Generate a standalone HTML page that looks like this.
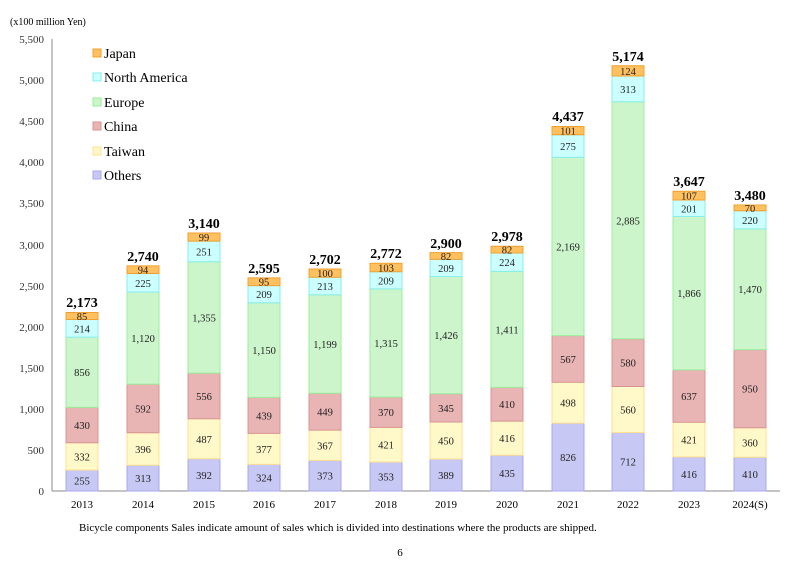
<!DOCTYPE html>
<html><head><meta charset="utf-8"><style>body{margin:0;background:#fff}svg{display:block;font-family:"Liberation Serif",serif}</style></head><body>
<svg width="800" height="566" viewBox="0 0 800 566" xmlns="http://www.w3.org/2000/svg">
<text x="10" y="25" font-size="10">(x100 million Yen)</text>
<g font-size="11" text-anchor="end" fill="#333">
<text x="44" y="495">0</text><text x="44" y="454">500</text><text x="44" y="413">1,000</text><text x="44" y="372">1,500</text><text x="44" y="331">2,000</text><text x="44" y="290">2,500</text><text x="44" y="249">3,000</text><text x="44" y="207">3,500</text><text x="44" y="166">4,000</text><text x="44" y="125">4,500</text><text x="44" y="84">5,000</text><text x="44" y="43">5,500</text>
</g>
<line x1="52" y1="39" x2="52" y2="491" stroke="#888"/>
<line x1="52" y1="491" x2="780" y2="491" stroke="#888"/>
<g transform="translate(0,491) scale(1,-0.08218)" stroke-width="1">
<defs></defs>
<g id="bars">
<!-- columns: x, then stacked segments -->
</g>
<g fill="#c8c8f4" stroke="#a8a8ee" vector-effect="non-scaling-stroke">
<rect x="66" y="0" width="32" height="255" vector-effect="non-scaling-stroke"/>
<rect x="127" y="0" width="32" height="313" vector-effect="non-scaling-stroke"/>
<rect x="188" y="0" width="32" height="392" vector-effect="non-scaling-stroke"/>
<rect x="248" y="0" width="32" height="324" vector-effect="non-scaling-stroke"/>
<rect x="309" y="0" width="32" height="373" vector-effect="non-scaling-stroke"/>
<rect x="370" y="0" width="32" height="353" vector-effect="non-scaling-stroke"/>
<rect x="430" y="0" width="32" height="389" vector-effect="non-scaling-stroke"/>
<rect x="491" y="0" width="32" height="435" vector-effect="non-scaling-stroke"/>
<rect x="552" y="0" width="32" height="826" vector-effect="non-scaling-stroke"/>
<rect x="612" y="0" width="32" height="712" vector-effect="non-scaling-stroke"/>
<rect x="673" y="0" width="32" height="416" vector-effect="non-scaling-stroke"/>
<rect x="734" y="0" width="32" height="410" vector-effect="non-scaling-stroke"/>
</g>
<g fill="#fff8c8" stroke="#ffe090">
<rect x="66" y="255" width="32" height="332" vector-effect="non-scaling-stroke"/>
<rect x="127" y="313" width="32" height="396" vector-effect="non-scaling-stroke"/>
<rect x="188" y="392" width="32" height="487" vector-effect="non-scaling-stroke"/>
<rect x="248" y="324" width="32" height="377" vector-effect="non-scaling-stroke"/>
<rect x="309" y="373" width="32" height="367" vector-effect="non-scaling-stroke"/>
<rect x="370" y="353" width="32" height="421" vector-effect="non-scaling-stroke"/>
<rect x="430" y="389" width="32" height="450" vector-effect="non-scaling-stroke"/>
<rect x="491" y="435" width="32" height="416" vector-effect="non-scaling-stroke"/>
<rect x="552" y="826" width="32" height="498" vector-effect="non-scaling-stroke"/>
<rect x="612" y="712" width="32" height="560" vector-effect="non-scaling-stroke"/>
<rect x="673" y="416" width="32" height="421" vector-effect="non-scaling-stroke"/>
<rect x="734" y="410" width="32" height="360" vector-effect="non-scaling-stroke"/>
</g>
<g fill="#e8b4b4" stroke="#d89494">
<rect x="66" y="587" width="32" height="430" vector-effect="non-scaling-stroke"/>
<rect x="127" y="709" width="32" height="592" vector-effect="non-scaling-stroke"/>
<rect x="188" y="879" width="32" height="556" vector-effect="non-scaling-stroke"/>
<rect x="248" y="701" width="32" height="439" vector-effect="non-scaling-stroke"/>
<rect x="309" y="740" width="32" height="449" vector-effect="non-scaling-stroke"/>
<rect x="370" y="774" width="32" height="370" vector-effect="non-scaling-stroke"/>
<rect x="430" y="839" width="32" height="345" vector-effect="non-scaling-stroke"/>
<rect x="491" y="851" width="32" height="410" vector-effect="non-scaling-stroke"/>
<rect x="552" y="1324" width="32" height="567" vector-effect="non-scaling-stroke"/>
<rect x="612" y="1272" width="32" height="580" vector-effect="non-scaling-stroke"/>
<rect x="673" y="837" width="32" height="637" vector-effect="non-scaling-stroke"/>
<rect x="734" y="770" width="32" height="950" vector-effect="non-scaling-stroke"/>
</g>
<g fill="#ccf5cc" stroke="#99ee99">
<rect x="66" y="1017" width="32" height="856" vector-effect="non-scaling-stroke"/>
<rect x="127" y="1301" width="32" height="1120" vector-effect="non-scaling-stroke"/>
<rect x="188" y="1435" width="32" height="1355" vector-effect="non-scaling-stroke"/>
<rect x="248" y="1140" width="32" height="1150" vector-effect="non-scaling-stroke"/>
<rect x="309" y="1189" width="32" height="1199" vector-effect="non-scaling-stroke"/>
<rect x="370" y="1144" width="32" height="1315" vector-effect="non-scaling-stroke"/>
<rect x="430" y="1184" width="32" height="1426" vector-effect="non-scaling-stroke"/>
<rect x="491" y="1261" width="32" height="1411" vector-effect="non-scaling-stroke"/>
<rect x="552" y="1891" width="32" height="2169" vector-effect="non-scaling-stroke"/>
<rect x="612" y="1852" width="32" height="2885" vector-effect="non-scaling-stroke"/>
<rect x="673" y="1474" width="32" height="1866" vector-effect="non-scaling-stroke"/>
<rect x="734" y="1720" width="32" height="1470" vector-effect="non-scaling-stroke"/>
</g>
<g fill="#ccffff" stroke="#88eeee">
<rect x="66" y="1873" width="32" height="214" vector-effect="non-scaling-stroke"/>
<rect x="127" y="2421" width="32" height="225" vector-effect="non-scaling-stroke"/>
<rect x="188" y="2790" width="32" height="251" vector-effect="non-scaling-stroke"/>
<rect x="248" y="2290" width="32" height="209" vector-effect="non-scaling-stroke"/>
<rect x="309" y="2388" width="32" height="213" vector-effect="non-scaling-stroke"/>
<rect x="370" y="2459" width="32" height="209" vector-effect="non-scaling-stroke"/>
<rect x="430" y="2610" width="32" height="209" vector-effect="non-scaling-stroke"/>
<rect x="491" y="2672" width="32" height="224" vector-effect="non-scaling-stroke"/>
<rect x="552" y="4060" width="32" height="275" vector-effect="non-scaling-stroke"/>
<rect x="612" y="4737" width="32" height="313" vector-effect="non-scaling-stroke"/>
<rect x="673" y="3340" width="32" height="201" vector-effect="non-scaling-stroke"/>
<rect x="734" y="3190" width="32" height="220" vector-effect="non-scaling-stroke"/>
</g>
<g fill="#ffc060" stroke="#f0a030">
<rect x="66" y="2087" width="32" height="85" vector-effect="non-scaling-stroke"/>
<rect x="127" y="2646" width="32" height="94" vector-effect="non-scaling-stroke"/>
<rect x="188" y="3041" width="32" height="99" vector-effect="non-scaling-stroke"/>
<rect x="248" y="2499" width="32" height="95" vector-effect="non-scaling-stroke"/>
<rect x="309" y="2601" width="32" height="100" vector-effect="non-scaling-stroke"/>
<rect x="370" y="2668" width="32" height="103" vector-effect="non-scaling-stroke"/>
<rect x="430" y="2819" width="32" height="82" vector-effect="non-scaling-stroke"/>
<rect x="491" y="2896" width="32" height="82" vector-effect="non-scaling-stroke"/>
<rect x="552" y="4335" width="32" height="101" vector-effect="non-scaling-stroke"/>
<rect x="612" y="5050" width="32" height="124" vector-effect="non-scaling-stroke"/>
<rect x="673" y="3541" width="32" height="107" vector-effect="non-scaling-stroke"/>
<rect x="734" y="3410" width="32" height="70" vector-effect="non-scaling-stroke"/>
</g>
</g>
<g font-size="10.5" text-anchor="middle" fill="#222">
<text x="82" y="484.5">255</text><text x="82" y="460.4">332</text><text x="82" y="429.1">430</text><text x="82" y="376.2">856</text><text x="82" y="332.3">214</text><text x="82" y="320">85</text>
<text x="143" y="482.1">313</text><text x="143" y="453">396</text><text x="143" y="412.4">592</text><text x="143" y="342.1">1,120</text><text x="143" y="286.8">225</text><text x="143" y="273.7">94</text>
<text x="204" y="478.9">392</text><text x="204" y="442.8">487</text><text x="204" y="399.9">556</text><text x="204" y="321.4">1,355</text><text x="204" y="255.4">251</text><text x="204" y="241">99</text>
<text x="264" y="481.7">324</text><text x="264" y="452.9">377</text><text x="264" y="419.4">439</text><text x="264" y="354.1">1,150</text><text x="264" y="298.2">209</text><text x="264" y="285.7">95</text>
<text x="325" y="479.7">373</text><text x="325" y="449.3">367</text><text x="325" y="415.7">449</text><text x="325" y="348">1,199</text><text x="325" y="290">213</text><text x="325" y="277.1">100</text>
<text x="386" y="480.5">353</text><text x="386" y="448.7">421</text><text x="386" y="416.2">370</text><text x="386" y="347">1,315</text><text x="386" y="284.3">209</text><text x="386" y="271.5">103</text>
<text x="446" y="479">389</text><text x="446" y="444.5">450</text><text x="446" y="411.9">345</text><text x="446" y="339.1">1,426</text><text x="446" y="271.9">209</text><text x="446" y="260">82</text>
<text x="507" y="477.1">435</text><text x="507" y="442.2">416</text><text x="507" y="408.2">410</text><text x="507" y="333.4">1,411</text><text x="507" y="266.2">224</text><text x="507" y="253.6">82</text>
<text x="568" y="461.1">826</text><text x="568" y="406.7">498</text><text x="568" y="362.9">567</text><text x="568" y="250.5">2,169</text><text x="568" y="150">275</text><text x="568" y="134.6">101</text>
<text x="628" y="465.7">712</text><text x="628" y="413.5">560</text><text x="628" y="366.6">580</text><text x="628" y="224.3">2,885</text><text x="628" y="92.8">313</text><text x="628" y="74.9">124</text>
<text x="689" y="477.9">416</text><text x="689" y="443.5">421</text><text x="689" y="400">637</text><text x="689" y="297.2">1,866</text><text x="689" y="212.3">201</text><text x="689" y="199.6">107</text>
<text x="750" y="478.2">410</text><text x="750" y="446.5">360</text><text x="750" y="392.7">950</text><text x="750" y="293.2">1,470</text><text x="750" y="223.8">220</text><text x="750" y="211.9">70</text>
</g>
<g font-size="14" font-weight="bold" text-anchor="middle">
<text x="82" y="307">2,173</text><text x="143" y="261">2,740</text><text x="204" y="228">3,140</text><text x="264" y="273">2,595</text><text x="325" y="264">2,702</text><text x="386" y="258">2,772</text><text x="446" y="248">2,900</text><text x="507" y="241">2,978</text><text x="568" y="121">4,437</text><text x="628" y="61">5,174</text><text x="689" y="186">3,647</text><text x="750" y="200">3,480</text>
</g>
<g font-size="11" text-anchor="middle">
<text x="82" y="508">2013</text><text x="143" y="508">2014</text><text x="204" y="508">2015</text><text x="264" y="508">2016</text><text x="325" y="508">2017</text><text x="386" y="508">2018</text><text x="446" y="508">2019</text><text x="507" y="508">2020</text><text x="568" y="508">2021</text><text x="628" y="508">2022</text><text x="689" y="508">2023</text><text x="750" y="508">2024(S)</text>
</g>
<g font-size="14">
<rect x="93" y="49" width="8" height="8" fill="#ffc060" stroke="#f0a030"/><text x="104" y="58">Japan</text>
<rect x="93" y="73" width="8" height="8" fill="#ccffff" stroke="#88eeee"/><text x="104" y="82">North America</text>
<rect x="93" y="98" width="8" height="8" fill="#ccf5cc" stroke="#99ee99"/><text x="104" y="107">Europe</text>
<rect x="93" y="122" width="8" height="8" fill="#e8b4b4" stroke="#d89494"/><text x="104" y="131">China</text>
<rect x="93" y="147" width="8" height="8" fill="#fff8c8" stroke="#ffe090"/><text x="104" y="156">Taiwan</text>
<rect x="93" y="171" width="8" height="8" fill="#c8c8f4" stroke="#a8a8ee"/><text x="104" y="180">Others</text>
</g>
<text x="79" y="531" font-size="11">Bicycle components Sales indicate amount of sales which is divided into destinations where the products are shipped.</text>
<text x="400" y="556" font-size="11" text-anchor="middle">6</text>
</svg>
</body></html>
